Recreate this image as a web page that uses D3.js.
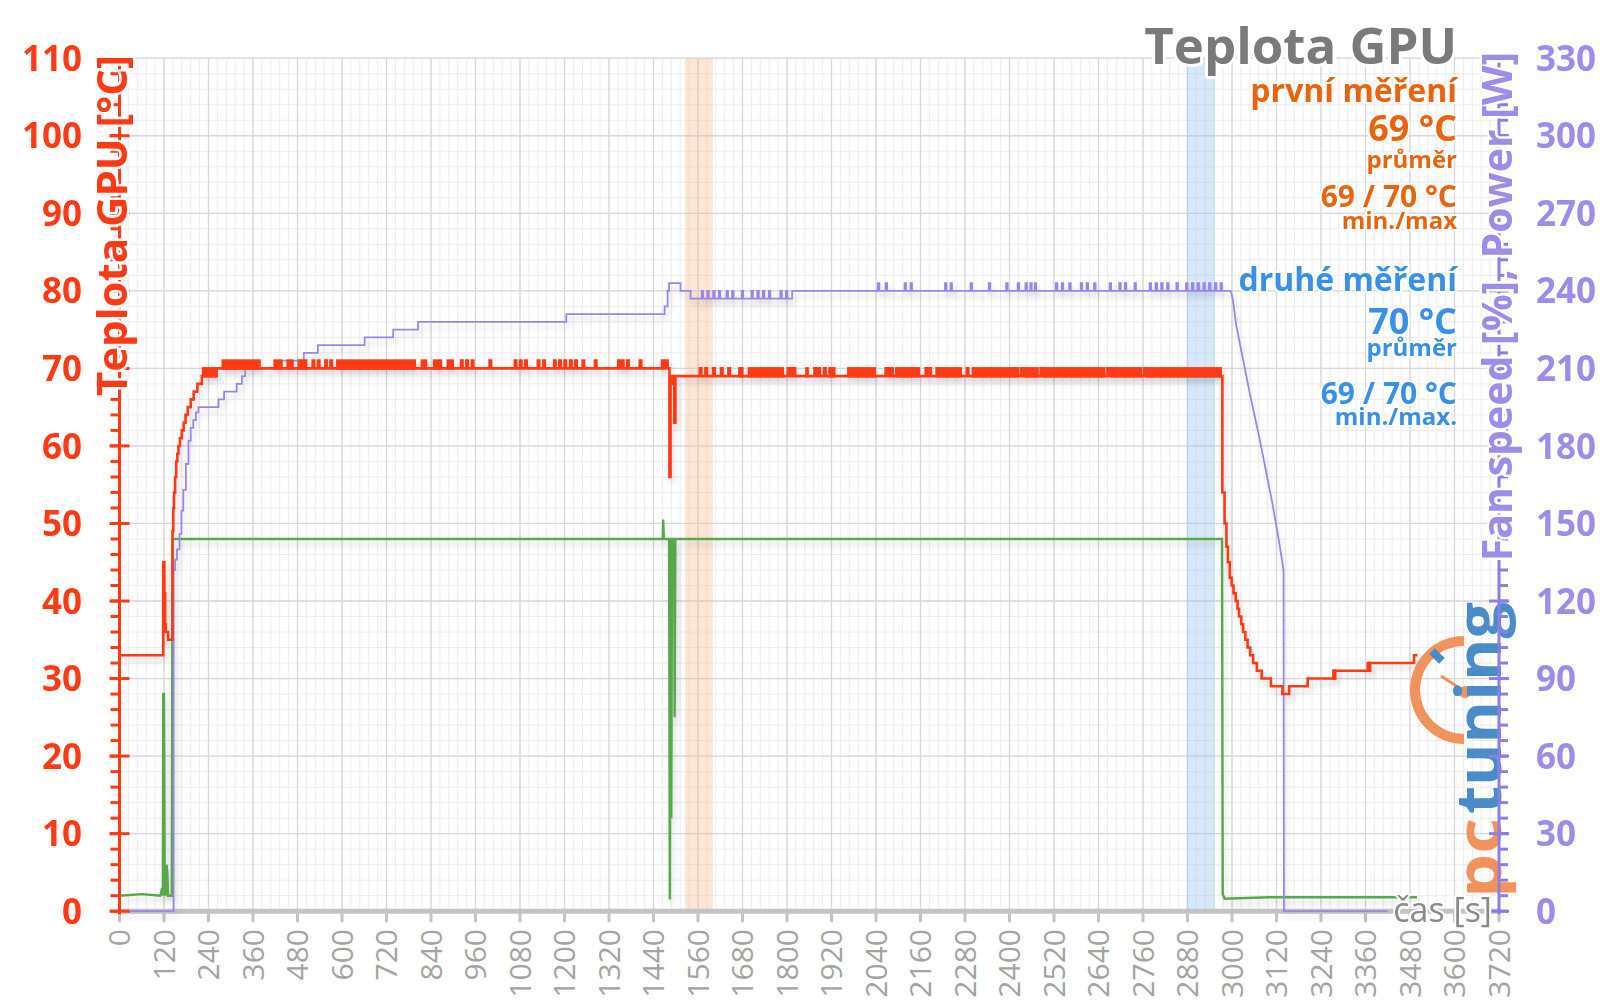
<!DOCTYPE html>
<html><head><meta charset="utf-8">
<script src="https://cdn.jsdelivr.net/npm/d3@7"></script>
<style>html,body{margin:0;padding:0;background:#fff;}svg{display:block;}</style>
</head><body>
<svg id="chart" width="1600" height="1007"></svg>
<script>
// ---------- DATA ----------
const xTicks = [0,120,240,360,480,600,720,840,960,1080,1200,1320,1440,1560,1680,1800,1920,2040,2160,2280,2400,2520,2640,2760,2880,3000,3120,3240,3360,3480,3600,3720];
const yTicksLeft = [0,10,20,30,40,50,60,70,80,90,100,110];
const yTicksRight = [0,30,60,90,120,150,180,210,240,270,300,330];

// GPU temperature [°C] – step points [t, value]
const redSteps = [
  [0,33],[116,33],[118,45],[121,41],[123,37],[125,36],[131,35],[142,35],[143,49],[145,52],[147,54],
  [150,56],[153,58],[156,59],[159,60],[163,61],[168,62],[173,63],[178,64],[184,65],[192,66],[200,67],
  [210,68],[222,69],[262,70],[1482,70],[1483,56],[1486,68],[1488,69],[1494,68],[1496,63],[1499,69],
  [2973,69],[2974,54],[2980,50],[2985,47],[2989,45],[2994,43],[2999,42],[3004,41],[3010,40],[3015,39],
  [3019,38],[3025,37],[3030,36],[3036,35],[3042,34],[3049,33],[3057,32],[3067,31],[3080,30],[3105,29],
  [3136,28],[3154,29],[3204,30],[3276,31],[3366,32],[3491,33],[3500,33]
];
// short one-sample peaks (+1 °C above the running value)
const redSpikes = [521,535,555,569,921,935,950,998,1066,1080,1094,1128,1143,1172,1186,1200,1215,1229,1249,1282,1345,1355,1369,1403,1463,1470,1474,
  1565,1580,1601,1622,1642,1802,1810,1818,1874,1885,1900,2066,2074,2081,2174,2184,2285,2432,2484,2664,2763];
// zones where the value toggles rapidly between two levels [t0, t1, low, high]
const redBands = [
  [222,262,69,70],[275,381,70,71],[415,440,70,71],[450,470,70,71],[480,507,70,71],[584,800,70,71],
  [812,830,70,71],[845,870,70,71],[882,902,70,71],
  [1668,1683,69,70],[1694,1792,69,70],[1849,1859,69,70],[1911,1931,69,70],[1962,2040,69,70],
  [2091,2159,69,70],[2200,2272,69,70],[2298,2427,69,70],[2437,2479,69,70],[2489,2659,69,70],
  [2670,2758,69,70],[2768,2973,69,70],[3270,3282,30,31],[3366,3376,31,32]
];

// GPU load (left axis)
const greenLine = [
  [0,2],[60,2.2],[110,2],[115,3],[117,2],[118,28],[120,28],[122,3],[124,2],[127,6],[129,5],[131,2],
  [141,2],[143,48],[800,48],[1465,48],[1466,50.5],[1468,48],[1482,48],[1484,1.5],[1486,48],[1487,48],
  [1488,12],[1490,48],[1496,48],[1497,25],[1499,48],[2973,48],[2975,2.2],[2980,1.6],[3100,1.8],[3499,1.8]
];

// Fan speed / power (right axis) – step points
const purpleSteps = [
  [0,0],[145,0],[146,132],[150,136],[155,140],[162,146],[167,155],[172,163],[179,173],[186,182],[192,187],
  [199,190],[206,193],[213,195],[267,198],[282,201],[316,204],[330,207],[339,210],[420,213],[497,216],
  [535,219],[661,222],[738,225],[805,228],[1205,231],[1470,234],[1478,240],[1482,243],[1513,240],
  [1540,237],[1814,240],[2997,240]
];
const purpleSpikes = [1570,1585,1601,1616,1637,1652,1678,1704,1720,1735,1751,1782,1797,
  2045,2066,2117,2133,2226,2241,2295,2344,2391,2422,2443,2456,2468,2525,2541,2561,2592,2608,2628,
  2670,2696,2711,2737,2778,2794,2809,2825,2850,2876,2892,2907,2923,2938,2954,2969];
const purpleRamp = [[2997,240],[3003,236],[3011,227],[3029,214],[3047,201],[3074,183],[3092,170],[3110,157],[3128,142],[3139,132],[3140,0],[3420,0]];

const orangeBand = [1525,1600];
const blueBand = [2878,2954];

const titleText = "Teplota GPU";
const leftAxisTitle = "Teplota GPU [°C]";
const rightAxisTitle = "Fan speed [%], Power [W]";
const xAxisTitle = "čas [s]";
const statsFirst = ["první měření","69 °C","průměr","69 / 70 °C","min./max"];
const statsSecond = ["druhé měření","70 °C","průměr","69 / 70 °C","min./max."];

// ---------- CHART ----------
const svg = d3.select("#chart");
const FONT = "'Open Sans','DejaVu Sans',sans-serif";
const RED = "#ff3a17", PURPLE = "#9a86e6", GREEN = "#5aa64e";
const x = d3.scaleLinear().domain([0,3720]).range([119.5,1499]);
const yL = d3.scaleLinear().domain([0,110]).range([911.2,58.2]);
const yR = d3.scaleLinear().domain([0,330]).range([911.2,58.2]);

const defs = svg.append("defs");
const f = defs.append("filter").attr("id","shadow").attr("filterUnits","userSpaceOnUse")
  .attr("x",0).attr("y",0).attr("width",1600).attr("height",1007);
f.append("feDropShadow").attr("dx",2).attr("dy",5).attr("stdDeviation",3)
  .attr("flood-color","#000").attr("flood-opacity",0.16);

// grid
const grid = svg.append("g");
const minorX = d3.range(0,3721,24), minorY = d3.range(0,111,2);
grid.selectAll(".mx").data(minorX).join("line")
  .attr("x1",d=>x(d)).attr("x2",d=>x(d)).attr("y1",yL(0)).attr("y2",yL(110))
  .attr("stroke","#ececf1").attr("stroke-width",1);
grid.selectAll(".my").data(minorY).join("line")
  .attr("x1",x(0)).attr("x2",x(3720)).attr("y1",d=>yL(d)).attr("y2",d=>yL(d))
  .attr("stroke","#ececf1").attr("stroke-width",1);
grid.selectAll(".Mx").data(xTicks).join("line")
  .attr("x1",d=>x(d)).attr("x2",d=>x(d)).attr("y1",yL(0)).attr("y2",yL(110))
  .attr("stroke","#d6d6dd").attr("stroke-width",1.3);
grid.selectAll(".My").data(yTicksLeft).join("line")
  .attr("x1",x(0)).attr("x2",x(3720)).attr("y1",d=>yL(d)).attr("y2",d=>yL(d))
  .attr("stroke","#d6d6dd").attr("stroke-width",1.3);

// highlight bands
svg.append("rect").attr("x",x(orangeBand[0])).attr("width",x(orangeBand[1])-x(orangeBand[0]))
  .attr("y",yL(110)).attr("height",yL(0)-yL(110)).attr("fill","#f8b889").attr("opacity",0.35);
svg.append("rect").attr("x",x(blueBand[0])).attr("width",x(blueBand[1])-x(blueBand[0]))
  .attr("y",yL(110)).attr("height",yL(0)-yL(110)).attr("fill","#9cc6f2").attr("opacity",0.4);

// bottom axis line + ticks
svg.append("line").attr("x1",x(0)-2).attr("x2",x(3720)).attr("y1",yL(0)).attr("y2",yL(0))
  .attr("stroke","#c3c3c3").attr("stroke-width",5);
svg.selectAll(".xt").data(xTicks).join("line")
  .attr("x1",d=>x(d)).attr("x2",d=>x(d)).attr("y1",yL(0)).attr("y2",yL(0)+11)
  .attr("stroke","#c3c3c3").attr("stroke-width",3);
svg.selectAll(".xl").data(xTicks).join("text")
  .attr("transform",d=>`translate(${x(d)},929) rotate(-90)`)
  .attr("text-anchor","end").attr("dy","0.36em")
  .attr("font-family",FONT).attr("font-weight",400).attr("font-size",30).attr("fill","#a3a3a3")
  .text(d=>d);

// helper: add peaks to a step series
function withSpikes(base, spikes, w, amp){
  const pts = base.map(d=>[d[0],d[1]]);
  spikes.forEach(s=>{
    let v = base[0][1];
    for(const d of base){ if(d[0]<=s) v=d[1]; else break; }
    pts.push([s,v+amp]); pts.push([s+w,v]);
  });
  return pts.map((d,i)=>({d,i})).sort((a,b)=>a.d[0]-b.d[0]||a.i-b.i).map(o=>o.d);
}

const lines = svg.append("g").attr("filter","url(#shadow)");
const stepL = d3.line().x(d=>x(d[0])).y(d=>yL(d[1])).curve(d3.curveStepAfter);
const stepR = d3.line().x(d=>x(d[0])).y(d=>yR(d[1])).curve(d3.curveStepAfter);
const linL = d3.line().x(d=>x(d[0])).y(d=>yL(d[1]));
const linR = d3.line().x(d=>x(d[0])).y(d=>yR(d[1]));

lines.append("path").attr("d",linL(greenLine)).attr("fill","none").attr("stroke",GREEN).attr("stroke-width",2.4);
lines.append("path").attr("d",stepR(withSpikes(purpleSteps,purpleSpikes,4,3))).attr("fill","none").attr("stroke",PURPLE).attr("stroke-width",1.8);
lines.append("path").attr("d",linR(purpleRamp)).attr("fill","none").attr("stroke",PURPLE).attr("stroke-width",1.8);
lines.selectAll(".rb").data(redBands).join("rect")
  .attr("x",d=>x(d[0])).attr("width",d=>x(d[1])-x(d[0]))
  .attr("y",d=>yL(d[3])-1.3).attr("height",d=>yL(d[2])-yL(d[3])+2.6).attr("fill",RED);
lines.append("path").attr("d",stepL(withSpikes(redSteps,redSpikes,4,1))).attr("fill","none").attr("stroke",RED).attr("stroke-width",2.6);

// logo
const logo = svg.append("g").attr("opacity",0.92);
logo.append("path").attr("d",d3.arc()({innerRadius:44,outerRadius:54,startAngle:Math.PI,endAngle:2*Math.PI}))
  .attr("transform","translate(1464,690)").attr("fill","#f08a4e");
logo.append("rect").attr("x",-4).attr("y",-7).attr("width",8).attr("height",14).attr("fill","#3b82c4")
  .attr("transform","translate(1437,656) rotate(-45)");
logo.append("line").attr("x1",1441).attr("y1",676).attr("x2",1464).attr("y2",691).attr("stroke","#f08a4e").attr("stroke-width",3);
logo.append("circle").attr("cx",1465).attr("cy",692).attr("r",6).attr("fill","#f08a4e");
logo.append("text").attr("transform","translate(1501,898) rotate(-90)").attr("font-family",FONT).attr("font-weight",700)
  .attr("font-size",62).attr("fill","#f08a4e").attr("textLength",80).attr("lengthAdjust","spacingAndGlyphs").text("pc");
logo.append("text").attr("transform","translate(1501,814) rotate(-90)").attr("font-family",FONT).attr("font-weight",700)
  .attr("font-size",62).attr("fill","#3b82c4").attr("textLength",212).attr("lengthAdjust","spacingAndGlyphs").text("tuning");

// left axis
const la = svg.append("g");
la.append("line").attr("x1",x(0)).attr("x2",x(0)).attr("y1",yL(0)+3).attr("y2",yL(110)).attr("stroke",RED).attr("stroke-width",3);
la.selectAll(".lmin").data(minorY).join("line")
  .attr("x1",x(0)-9).attr("x2",x(0)).attr("y1",d=>yL(d)).attr("y2",d=>yL(d)).attr("stroke",RED).attr("stroke-width",3);
la.selectAll(".lmaj").data(yTicksLeft).join("line")
  .attr("x1",x(0)-10).attr("x2",x(0)+10).attr("y1",d=>yL(d)).attr("y2",d=>yL(d)).attr("stroke",RED).attr("stroke-width",3);
la.selectAll(".ll").data(yTicksLeft).join("text")
  .attr("x",82).attr("y",d=>yL(d)).attr("dy","0.36em").attr("text-anchor","end")
  .attr("font-family",FONT).attr("font-weight",700).attr("font-size",35).attr("fill",RED).text(d=>d);

// right axis
const ra = svg.append("g");
const minorR = d3.range(0,331,6);
ra.append("line").attr("x1",x(3720)).attr("x2",x(3720)).attr("y1",yR(0)+3).attr("y2",yR(330)).attr("stroke","#8e7de2").attr("stroke-width",3);
ra.selectAll(".rmin").data(minorR).join("line")
  .attr("x1",x(3720)).attr("x2",x(3720)+9).attr("y1",d=>yR(d)).attr("y2",d=>yR(d)).attr("stroke","#8e7de2").attr("stroke-width",3);
ra.selectAll(".rmaj").data(yTicksRight).join("line")
  .attr("x1",x(3720)-10).attr("x2",x(3720)+10).attr("y1",d=>yR(d)).attr("y2",d=>yR(d)).attr("stroke","#8e7de2").attr("stroke-width",3);
ra.selectAll(".rl").data(yTicksRight).join("text")
  .attr("x",1536).attr("y",d=>yR(d)).attr("dy","0.36em").attr("text-anchor","start")
  .attr("font-family",FONT).attr("font-weight",700).attr("font-size",35).attr("fill","#9d8ce8").text(d=>d);

// axis titles
function halo(sel,w){ return sel.attr("stroke","#fff").attr("stroke-width",w).attr("paint-order","stroke").attr("stroke-linejoin","round"); }
halo(svg.append("text").attr("transform","translate(127,55) rotate(-90)").attr("text-anchor","end")
  .attr("font-family",FONT).attr("font-weight",700).attr("font-size",42).attr("fill",RED).text(leftAxisTitle),5);
halo(svg.append("text").attr("transform","translate(1512,52) rotate(-90)").attr("text-anchor","end")
  .attr("font-family",FONT).attr("font-weight",700).attr("font-size",41).attr("fill","#9d8ce8").text(rightAxisTitle),5);
halo(svg.append("text").attr("x",1492).attr("y",922).attr("text-anchor","end")
  .attr("font-family",FONT).attr("font-size",34).attr("fill","#8a8a8a").text(xAxisTitle),4);

// title & stats
halo(svg.append("text").attr("x",1457).attr("y",64).attr("text-anchor","end")
  .attr("font-family",FONT).attr("font-weight",700).attr("font-size",51).attr("fill","#7a7a7a").text(titleText),6);
const statY1 = [102,141,168,207,229], statY2 = [291,334,356,404,425], statSize = [32,36,24,30,24];
statsFirst.forEach((s,i)=>halo(svg.append("text").attr("x",1457).attr("y",statY1[i]).attr("text-anchor","end")
  .attr("font-family",FONT).attr("font-weight",700).attr("font-size",statSize[i]).attr("fill","#e7650f").text(s),4));
statsSecond.forEach((s,i)=>halo(svg.append("text").attr("x",1457).attr("y",statY2[i]).attr("text-anchor","end")
  .attr("font-family",FONT).attr("font-weight",700).attr("font-size",statSize[i]).attr("fill","#3a8fe6").text(s),4));
</script>
</body></html>
